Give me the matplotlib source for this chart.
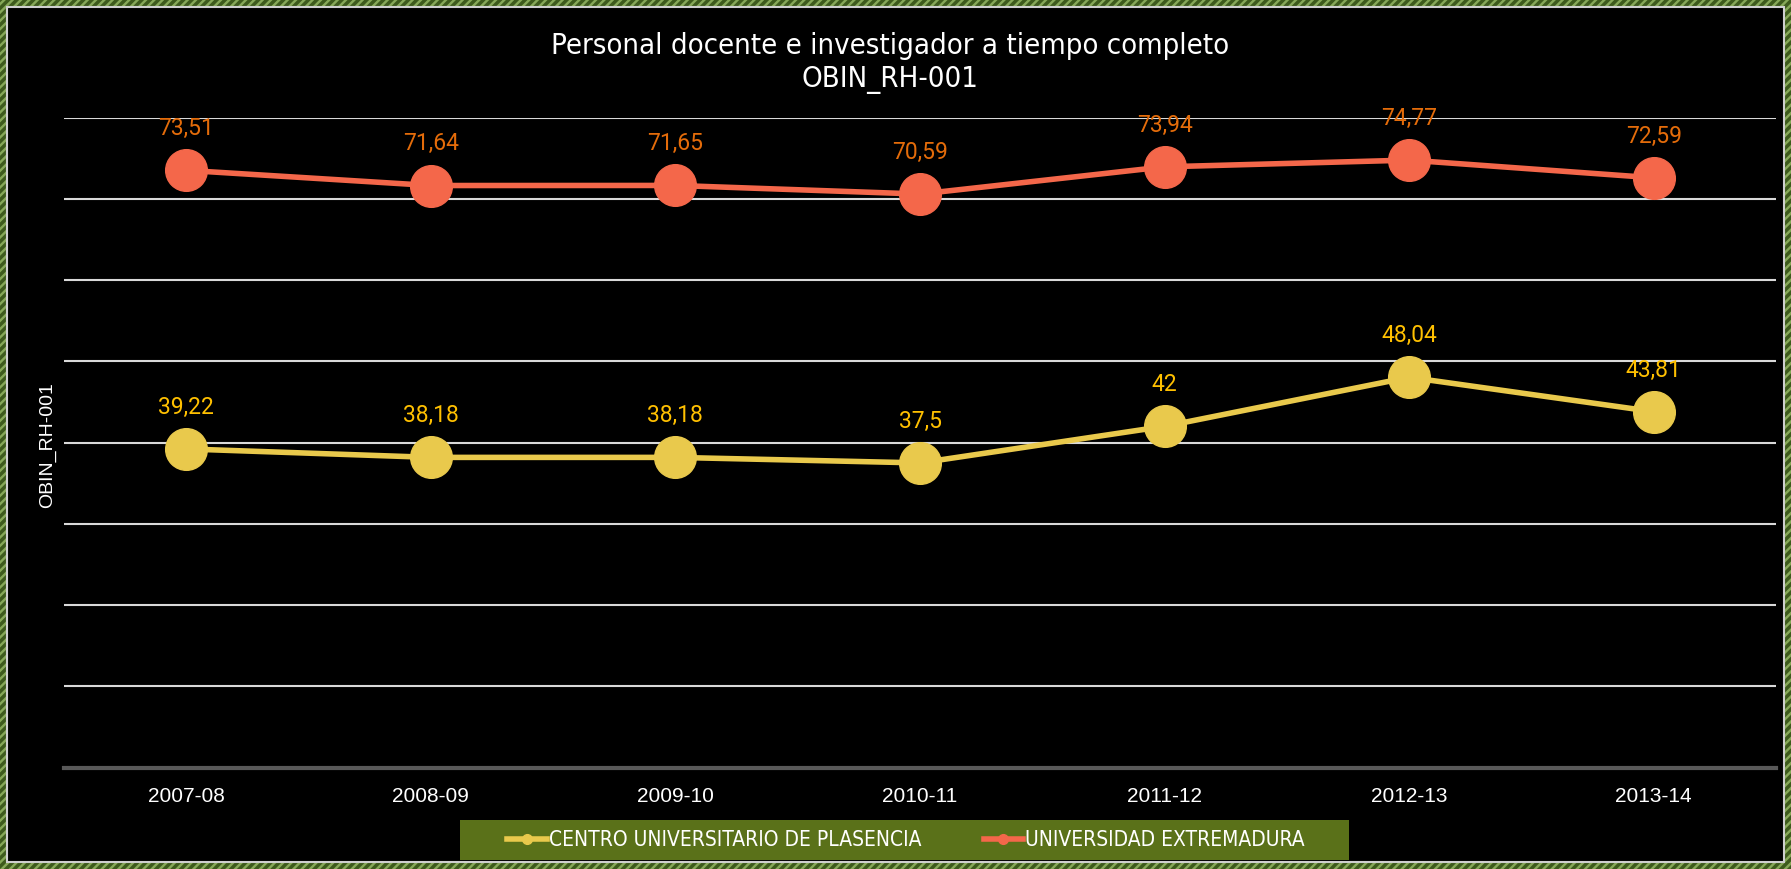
import matplotlib
matplotlib.use("Agg")
import matplotlib.pyplot as plt
from matplotlib.patches import Rectangle
from matplotlib.lines import Line2D

cursos = ["2007-08", "2008-09", "2009-10", "2010-11", "2011-12", "2012-13", "2013-14"]
plasencia = [39.22, 38.18, 38.18, 37.5, 42, 48.04, 43.81]
uex = [73.51, 71.64, 71.65, 70.59, 73.94, 74.77, 72.59]
nombres = ["CENTRO UNIVERSITARIO DE PLASENCIA", "UNIVERSIDAD EXTREMADURA"]

W, H = 1791, 869
plt.rcParams["hatch.linewidth"] = 2.5
fig = plt.figure(figsize=(W / 100, H / 100), dpi=100)

# borde verde rayado
fig.patches.append(Rectangle((0, 0), 1, 1, transform=fig.transFigure, facecolor="#86a858",
                             edgecolor="#3d5a1c", hatch="////", lw=0, zorder=-10))
fig.patches.append(Rectangle((7 / W, 7 / H), 1 - 14 / W, 1 - 14 / H, transform=fig.transFigure,
                             facecolor="black", edgecolor="#cfcfcf", lw=1.5, zorder=-9))

ax = fig.add_axes([64 / W, 1 - 767.6 / H, (1776 - 64) / W, (767.6 - 117.6) / H])
ax.patch.set_alpha(0)
x = range(len(cursos))

ax.plot(x, plasencia, color="#e9c94c", lw=4, marker="o", ms=30, zorder=3)
ax.plot(x, uex, color="#f4674a", lw=4, marker="o", ms=30, zorder=3)

def fmt(v):
    return ("%g" % v).replace(".", ",")

for i in x:
    ax.annotate(fmt(plasencia[i]), (i, plasencia[i]), xytext=(0, 30), textcoords="offset points",
                ha="center", va="center", color="#ffc000", fontsize=16.5, family="Roboto", zorder=4)
    ax.annotate(fmt(uex[i]), (i, uex[i]), xytext=(0, 30), textcoords="offset points",
                ha="center", va="center", color="#e46c0a", fontsize=16.5, family="Roboto", zorder=4)

ax.set_xlim(-0.5, 6.5)
ax.set_ylim(0, 80)
ax.set_yticks(range(0, 81, 10))
ax.set_yticklabels([])
ax.tick_params(axis="y", length=0)
ax.tick_params(axis="x", length=0, pad=14, labelcolor="white", labelsize=15)
ax.set_xticks(list(x))
ax.set_xticklabels(cursos, family="Liberation Sans")
ax.grid(axis="y", color="#d9d9d9", lw=1.5, zorder=1)
for s in ["top", "right", "left"]:
    ax.spines[s].set_visible(False)
ax.spines["bottom"].set_color("#595959")
ax.spines["bottom"].set_linewidth(3)

fig.text(0.497, 1 - 46 / H, "Personal docente e investigador a tiempo completo", ha="center", va="center",
         color="white", fontsize=21, family="DejaVu Sans", stretch="condensed")
fig.text(0.497, 1 - 80 / H, "OBIN_RH-001", ha="center", va="center",
         color="white", fontsize=21, family="DejaVu Sans", stretch="condensed")
fig.text(48 / W, 1 - 445 / H, "OBIN_RH-001", rotation=90, ha="center", va="center",
         color="white", fontsize=14, family="Liberation Sans")

# leyenda
fig.patches.append(Rectangle((460 / W, 1 - 860 / H), (1349 - 460) / W, 40 / H, transform=fig.transFigure,
                             facecolor="#5a7119", edgecolor="none", zorder=1))
handles = [Line2D([], [], color="#e9c94c", lw=4, marker="o", ms=7),
           Line2D([], [], color="#f4674a", lw=4, marker="o", ms=7)]
leg = fig.legend(handles, nombres, loc="center", bbox_to_anchor=(906 / W, 1 - 840 / H), ncol=2,
                 frameon=False, handlelength=1.9, handletextpad=0.1, columnspacing=3.0,
                 prop={"family": "DejaVu Sans", "stretch": "condensed", "size": 15})
for t in leg.get_texts():
    t.set_color("white")

fig.savefig("out.png", dpi=100, facecolor="black")
